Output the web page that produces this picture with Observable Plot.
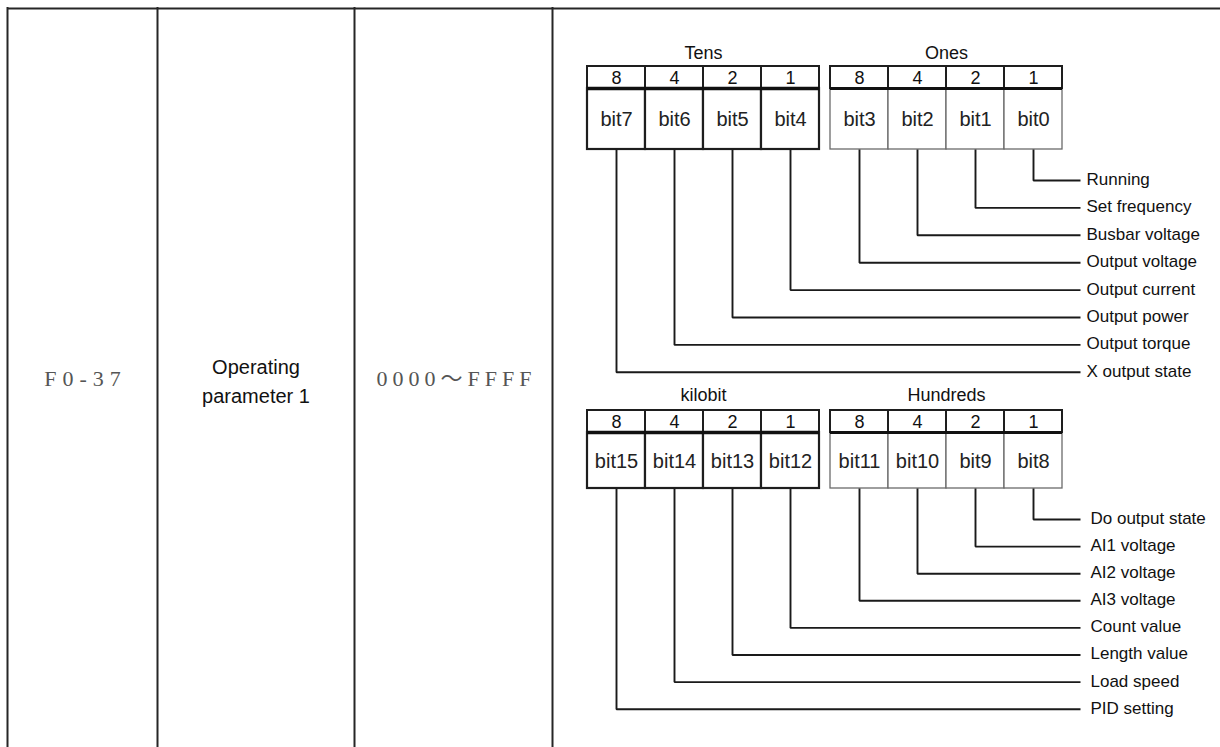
<!DOCTYPE html>
<html>
<head>
<meta charset="utf-8">
<script src="https://cdn.jsdelivr.net/npm/d3@7"></script>
<script src="https://cdn.jsdelivr.net/npm/@observablehq/plot@0.6"></script>
<style>
  html, body { margin: 0; padding: 0; background: #fff; }
  #chart svg { display: block; }
</style>
</head>
<body>
<div id="chart"></div>
<script>
// ---------- data ----------
const paramCode = "F0-37";
const paramName = "Operating\nparameter 1";
const paramRange = "0000～FFFF";

const topGroups = ["Tens", "Ones"];
const bottomGroups = ["kilobit", "Hundreds"];
const weights = [8, 4, 2, 1];
const topBits = ["bit7", "bit6", "bit5", "bit4", "bit3", "bit2", "bit1", "bit0"];
const bottomBits = ["bit15", "bit14", "bit13", "bit12", "bit11", "bit10", "bit9", "bit8"];
// descriptions, lowest bit first
const topItems = ["Running", "Set frequency", "Busbar voltage", "Output voltage",
  "Output current", "Output power", "Output torque", "X output state"];
const bottomItems = ["Do output state", "AI1 voltage", "AI2 voltage", "AI3 voltage",
  "Count value", "Length value", "Load speed", "PID setting"];

// ---------- layout ----------
const W = 1220, H = 747;
const tableTop = 8;
const colEdges = [7, 157, 354, 552];
const groupX = [587, 830];
const cellW = 58;
const lineEnd = 1080;
const blocks = [
  {groups: topGroups, bits: topBits, items: topItems, top: 66, mid: 88, bottom: 149, labelY: 53, lineY0: 180, lineStep: 27.4, textX: 1086},
  {groups: bottomGroups, bits: bottomBits, items: bottomItems, top: 410, mid: 432, bottom: 488, labelY: 395, lineY0: 519, lineStep: 27.1, textX: 1090}
];

const sans = "Liberation Sans, Arial, sans-serif";
const serif = "Liberation Serif, Noto Sans CJK SC, serif";

const cells = [], groupLabels = [], connectors = [], itemLabels = [], dividers = [];
blocks.forEach((b, bi) => {
  b.groups.forEach((g, gi) => {
    groupLabels.push({label: g, x: groupX[gi] + 2 * cellW, y: b.labelY});
    dividers.push({x1: groupX[gi], x2: groupX[gi] + 4 * cellW, y: b.mid, heavy: gi === 0});
    weights.forEach((w, i) => {
      const idx = gi * 4 + i;
      const x1 = groupX[gi] + i * cellW;
      const n = 7 - idx;
      cells.push({x1, x2: x1 + cellW, top: b.top, mid: b.mid, bottom: b.bottom, weight: String(w), bit: b.bits[idx], heavy: gi === 0});
      const cx = x1 + cellW / 2;
      const y = b.lineY0 + n * b.lineStep;
      const id = bi + "-" + n;
      connectors.push({id, x: cx, y: b.bottom}, {id, x: cx, y}, {id, x: lineEnd, y});
      itemLabels.push({label: b.items[n], x: b.textX, y: y - 1});
    });
  });
});

const chart = Plot.plot({
  width: W, height: H, margin: 0,
  x: {domain: [0, W], range: [0, W], axis: null},
  y: {domain: [0, H], range: [0, H], axis: null},
  marks: [
    // table frame
    Plot.ruleY([tableTop], {x1: colEdges[0], x2: W, stroke: "#262626", strokeWidth: 2}),
    Plot.ruleX(colEdges, {y1: tableTop - 1, y2: H, stroke: "#262626", strokeWidth: 2}),
    // left columns text
    Plot.text([paramCode], {x: (colEdges[0] + colEdges[1]) / 2 + 3, y: 378, text: d => d, fontFamily: serif, fontSize: 22, fill: "#555"}),
    Plot.text([paramName], {x: (colEdges[1] + colEdges[2]) / 2, y: 379, text: d => d, fontFamily: sans, fontSize: 20, lineHeight: 1.45, fill: "#111"}),
    Plot.text([paramRange], {x: (colEdges[2] + colEdges[3]) / 2 + 3, y: 378, text: d => d, fontFamily: serif, fontSize: 22, fill: "#555"}),
    // bit cells
    Plot.rect(cells.filter(d => !d.heavy), {x1: "x1", x2: "x2", y1: "mid", y2: "bottom", fill: "white", stroke: "#6a6a6a", strokeWidth: 1.3}),
    Plot.rect(cells.filter(d => d.heavy), {x1: "x1", x2: "x2", y1: "mid", y2: "bottom", fill: "white", stroke: "#1e1e1e", strokeWidth: 2.2}),
    // weight cells
    Plot.rect(cells, {x1: "x1", x2: "x2", y1: "top", y2: "mid", fill: "white", stroke: "#1e1e1e", strokeWidth: 2}),
    Plot.ruleY(dividers, {x1: "x1", x2: "x2", y: "y", stroke: "#111", strokeWidth: d => d.heavy ? 3.5 : 2.8}),
    Plot.text(cells, {x: d => (d.x1 + d.x2) / 2, y: d => (d.top + d.mid) / 2 + 1, text: "weight", fontFamily: sans, fontSize: 18, fill: "#111"}),
    Plot.text(cells, {x: d => (d.x1 + d.x2) / 2, y: d => (d.mid + d.bottom) / 2 + 1, text: "bit", fontFamily: sans, fontSize: 20, fill: "#222"}),
    // group labels
    Plot.text(groupLabels, {x: "x", y: "y", text: "label", fontFamily: sans, fontSize: 18, fill: "#111"}),
    // connectors
    Plot.line(connectors, {x: "x", y: "y", z: "id", stroke: "#1a1a1a", strokeWidth: 1.9, strokeLinejoin: "miter", strokeLinecap: "butt", curve: "linear"}),
    // item labels
    Plot.text(itemLabels, {x: "x", y: "y", text: "label", textAnchor: "start", fontFamily: sans, fontSize: 17, fill: "#111"})
  ]
});

document.getElementById("chart").appendChild(chart);

// letter spacing for the serif (CJK-style) cells
d3.select(chart).selectAll("text").each(function () {
  const t = this.textContent;
  if (t === paramCode) this.setAttribute("letter-spacing", "6");
  if (t === paramRange) this.setAttribute("letter-spacing", "5");
});
</script>
</body>
</html>
